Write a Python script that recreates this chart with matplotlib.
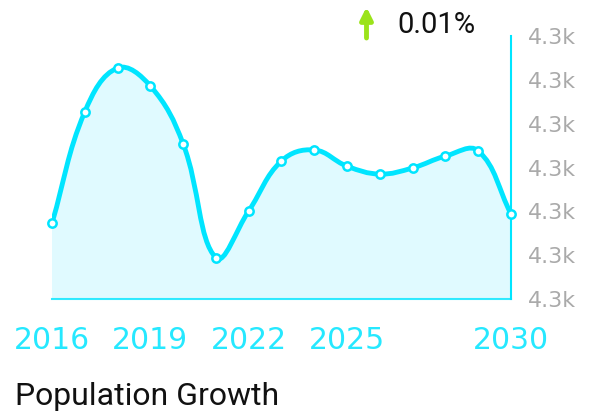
import numpy as np
import matplotlib
matplotlib.use('Agg')
import matplotlib.pyplot as plt
from matplotlib.path import Path
from matplotlib.patches import PathPatch
from matplotlib.ticker import FuncFormatter, FixedLocator

years = [2016, 2017, 2018, 2019, 2020, 2021, 2022, 2023, 2024, 2025,
         2026, 2027, 2028, 2029, 2030]
population = [4300.73, 4303.27, 4304.27, 4303.86, 4302.54, 4299.94, 4301.01,
              4302.15, 4302.40, 4302.03, 4301.85, 4301.99, 4302.26, 4302.38,
              4300.94]
xtick_years = [2016, 2019, 2022, 2025, 2030]
ytick_values = [4299, 4300, 4301, 4302, 4303, 4304, 4305]
change_text = '0.01%'
title_text = 'Population Growth'

CYAN = '#00e5ff'
FILL = '#e0faff'
GREY = '#aaaaaa'


def spline_path(ax, xs, ys, tension=0.4):
    # chart.js style bezier control points, computed in pixel space
    pts = ax.transData.transform(np.column_stack([xs, ys]))
    n = len(pts)
    verts = [pts[0]]
    codes = [Path.MOVETO]
    cps = []
    for i in range(n):
        prev = pts[max(i - 1, 0)]
        cur = pts[i]
        nxt = pts[min(i + 1, n - 1)]
        d01 = np.hypot(*(cur - prev))
        d12 = np.hypot(*(nxt - cur))
        tot = d01 + d12
        s01 = d01 / tot if tot else 0
        s12 = d12 / tot if tot else 0
        cps.append((cur - tension * s01 * (nxt - prev),
                    cur + tension * s12 * (nxt - prev)))
    for i in range(n - 1):
        verts += [cps[i][1], cps[i + 1][0], pts[i + 1]]
        codes += [Path.CURVE4] * 3
    inv = ax.transData.inverted()
    return inv.transform(np.array(verts)), codes


fig = plt.figure(figsize=(5.95, 4.15), dpi=100)
ax = fig.add_axes([52 / 595, 1 - 299 / 415, 459 / 595, 263 / 415])
ax.set_xlim(years[0], years[-1])
ax.set_ylim(ytick_values[0], ytick_values[-1])

verts, codes = spline_path(ax, years, population)

# area under the curve
fill_verts = np.vstack([verts, [[years[-1], ytick_values[0]],
                                [years[0], ytick_values[0]], verts[0]]])
fill_codes = codes + [Path.LINETO, Path.LINETO, Path.CLOSEPOLY]
ax.add_patch(PathPatch(Path(fill_verts, fill_codes), facecolor=FILL,
                       edgecolor='none', zorder=1))
ax.add_patch(PathPatch(Path(verts, codes), facecolor='none', edgecolor=CYAN,
                       lw=3.5, capstyle='round', joinstyle='round', zorder=3))
ax.plot(years, population, 'o', ms=6, mfc='white', mec=CYAN, mew=1.8,
        zorder=4, clip_on=False)

for side in ['left', 'top']:
    ax.spines[side].set_visible(False)
for side in ['right', 'bottom']:
    ax.spines[side].set_color(CYAN)
    ax.spines[side].set_linewidth(1.5)
ax.spines['bottom'].set_alpha(0.8)

ax.yaxis.tick_right()
ax.yaxis.set_major_locator(FixedLocator(ytick_values))
ax.yaxis.set_major_formatter(FuncFormatter(lambda v, p: f'{v / 1000:.1f}k'))
ax.tick_params(axis='y', length=0, pad=12, labelsize=16, labelcolor=GREY,
               labelfontfamily='DejaVu Sans')

ax.set_xticks(xtick_years)
ax.set_xticklabels([str(y) for y in xtick_years])
ax.tick_params(axis='x', length=0, pad=19.5, labelsize=21.5, labelcolor=CYAN,
               labelfontfamily='DejaVu Sans')
for lbl in ax.get_xticklabels():
    lbl.set_alpha(0.85)

# change indicator
ax.annotate('', xy=(366.5 / 595, 1 - 7 / 415), xytext=(366.5 / 595, 1 - 38 / 415),
            xycoords='figure fraction', textcoords='figure fraction',
            arrowprops=dict(arrowstyle='-|>', color='#9be31a', lw=3.5,
                            mutation_scale=18, shrinkA=0, shrinkB=0))
fig.text(397 / 595, 1 - 25 / 415, change_text, family='Roboto', fontsize=21,
         color='#111111', va='center', ha='left')

fig.text(15 / 595, 1 - 396 / 415, title_text, family='Roboto', fontsize=23,
         color='#111111', va='center', ha='left')

fig.savefig('out.png', dpi=100)
